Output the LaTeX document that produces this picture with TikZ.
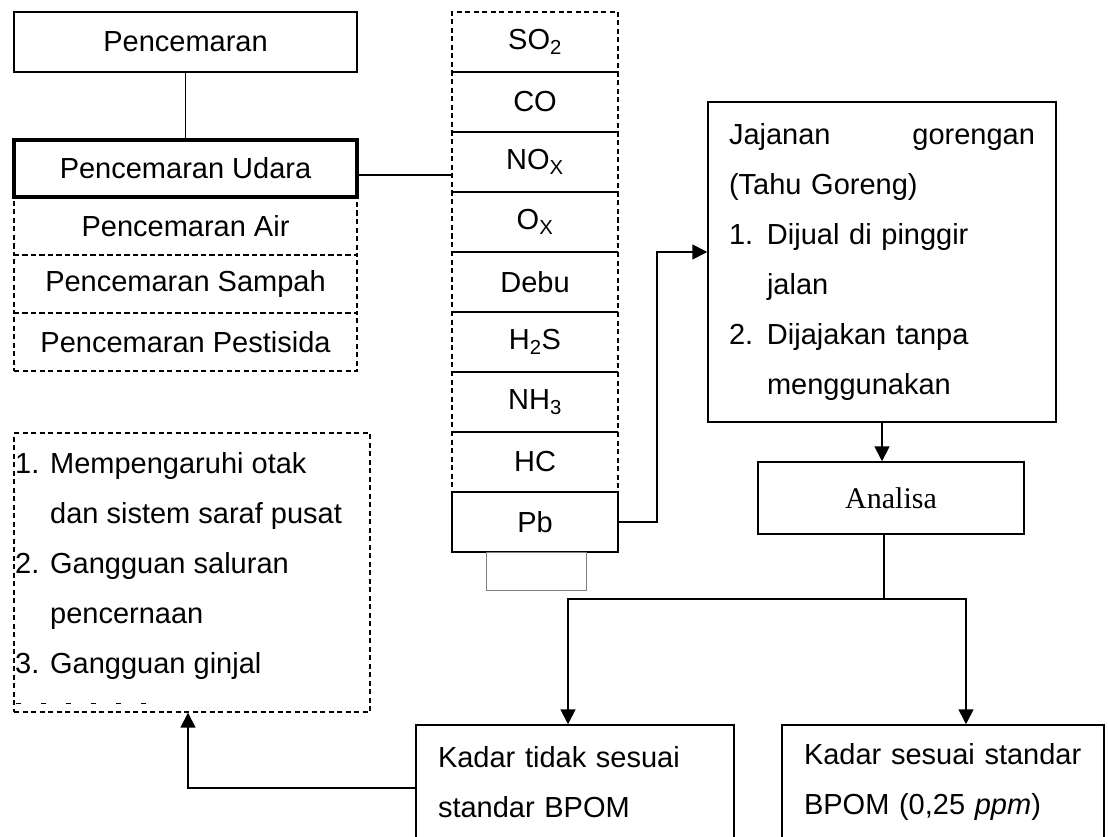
\documentclass[tikz,border=0pt]{standalone}
\usepackage{fontspec}
\setmainfont{Liberation Sans}
\newfontfamily\serifrm{Liberation Serif}
\usetikzlibrary{arrows.meta}
\newcommand{\itm}[1]{\makebox[38pt][l]{#1}}
\newcommand{\litm}[1]{\makebox[35pt][l]{#1}}

\begin{document}
\begin{tikzpicture}[x=1pt,y=-1pt,
  every node/.style={font=\fontsize{29}{50}\selectfont, inner sep=0pt},
  solidbox/.style={draw, line width=1.5pt},
  dashbox/.style={draw, line width=1.4pt, dash pattern=on 5pt off 3.5pt},
  stackbox/.style={minimum width=343pt, minimum height=58pt},
  gasbox/.style={dashbox, minimum width=166pt, minimum height=60pt},
  link/.style={line width=1.7pt},
  arr/.style={line width=1.7pt, -{Triangle[length=15pt,width=15pt]}}]
\useasboundingbox (0,0) rectangle (1108,837);
\clip (0,0) rectangle (1108,837);

% kolom kiri
\node[solidbox, stackbox, minimum height=60pt] (pcm) at (185.5,42) {Pencemaran};
\node[solidbox, stackbox, line width=3.5pt, minimum height=57pt] (udara) at (185.5,168.5) {Pencemaran Udara};
\node[dashbox, stackbox] (air) at (185.5,226) {Pencemaran Air};
\node[dashbox, stackbox] (sampah) at (185.5,284) {Pencemaran Sampah};
\node[dashbox, stackbox] (pestisida) at (185.5,342) {Pencemaran Pestisida};
\draw[link] (pcm) -- (udara);

% kolom zat pencemar
\foreach \gas [count=\i] in {SO\textsubscript{2},CO,NO\textsubscript{X},O\textsubscript{X},Debu,H\textsubscript{2}S,NH\textsubscript{3},HC}
  \node[gasbox] (g\i) at (535,-18+60*\i) {\gas};
\node[solidbox, minimum width=166pt, minimum height=60pt] (pb) at (535,522) {Pb};
\node[draw, gray, line width=0.9pt, minimum width=100pt, minimum height=38pt] (kosong) at (536,571) {};
\draw[link] ([yshift=-6.5pt]udara.east) -- ([yshift=-6.5pt]udara.east -| g3.west);

% jajanan dan analisa
\node[solidbox, minimum width=348pt, minimum height=320pt, text width=306pt, align=left] (jajan) at (882,262)
  {Jajanan\hfill gorengan\\(Tahu Goreng)\\\itm{1.}Dijual di pinggir\\\itm{}jalan\\\itm{2.}Dijajakan tanpa\\\itm{}menggunakan};
\coordinate (naik) at (657,252);
\draw[arr] (pb.east) -| (naik) -- (naik -| jajan.west);
\node[solidbox, minimum width=266pt, minimum height=72pt, font=\serifrm\fontsize{30}{36}\selectfont] (analisa) at (891,498) {Analisa};
\draw[arr] (jajan) -- (jajan |- analisa.north);

% hasil
\node[solidbox, minimum width=318pt, minimum height=114pt, text width=274pt, align=left] (tidak) at (575,782)
  {Kadar tidak sesuai\\standar BPOM};
\node[solidbox, minimum width=322pt, minimum height=114pt, text width=278pt, align=left] (sesuai) at (943,782)
  {Kadar sesuai standar\\BPOM (0,25 \textit{ppm})};
\coordinate (cabang) at (884,599);
\draw[link] (analisa.south -| cabang) -- (cabang);
\draw[arr] (cabang) -| ([xshift=-7pt]tidak.north);
\draw[arr] (cabang) -| ([xshift=23pt]sesuai.north);

% dampak
\node[dashbox, minimum width=356pt, minimum height=279pt] (dampak) at (192,572.5) {};
\node[anchor=north west, align=left] (dampaktxt) at (15,452)
  {\litm{1.}Mempengaruhi otak\\\litm{}dan sistem saraf pusat\\\litm{2.}Gangguan saluran\\\litm{}pencernaan\\\litm{3.}Gangguan ginjal};
\draw[line width=0.8pt, dash pattern=on 5pt off 20pt] (16,703) -- (160,703);
\draw[arr] ([yshift=-6pt]tidak.west) -| ([xshift=-4pt]dampak.south);
\end{tikzpicture}
\end{document}
